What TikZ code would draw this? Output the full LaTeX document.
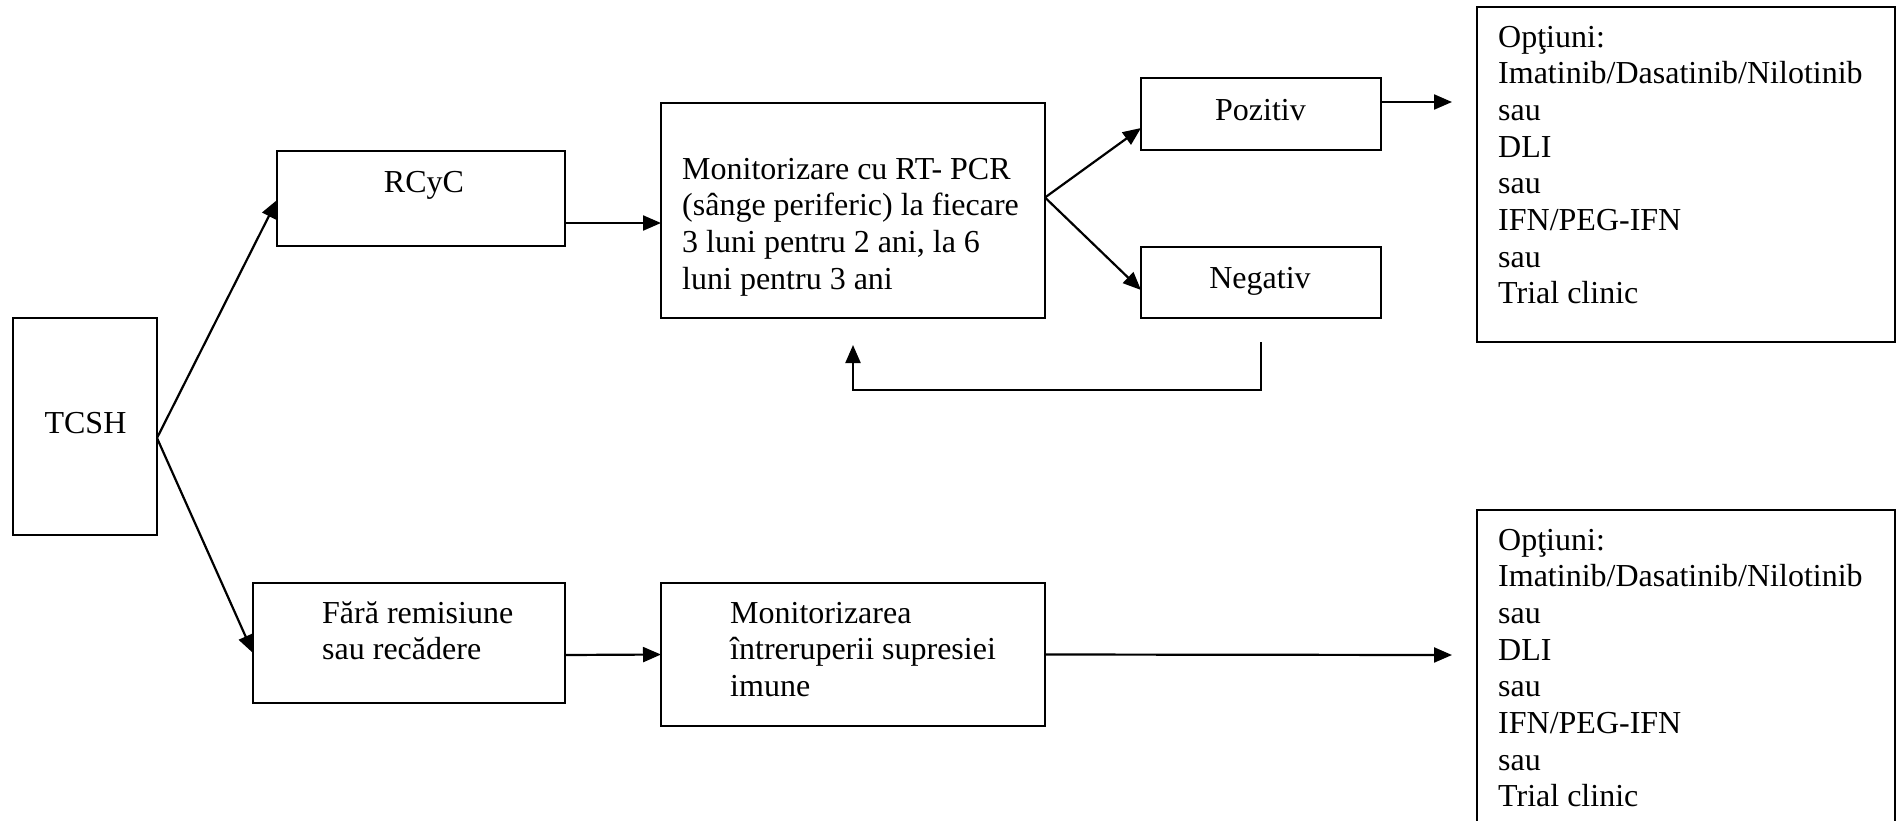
\documentclass[tikz,border=0pt]{standalone}
\usepackage{fontspec}
\setmainfont{Liberation Serif}
\usetikzlibrary{arrows.meta,calc}
\begin{document}
\begin{tikzpicture}[x=1pt,y=-1pt,
  box/.style={draw, line width=2.2pt, rectangle, inner sep=0pt, outer sep=0pt},
  txt/.style={inner sep=0pt, font=\fontsize{32pt}{36.7pt}\selectfont, align=left},
  arr/.style={line width=2.2pt, -{Triangle[length=18pt,width=15pt]}}]
\useasboundingbox (0,0) rectangle (1897,820);
\clip (0,0) rectangle (1897,820);
% boxes
\node[box, minimum width=144pt, minimum height=217pt] (tcsh) at (85,426.5) {};
\node[box, minimum width=288pt, minimum height=95pt]  (rcyc) at (421,198.5) {};
\node[box, minimum width=312pt, minimum height=120pt] (fara) at (409,643) {};
\node[box, minimum width=384pt, minimum height=215pt] (mon)  at (853,210.5) {};
\node[box, minimum width=384pt, minimum height=143pt] (monb) at (853,654.5) {};
\node[box, minimum width=240pt, minimum height=72pt]  (poz)  at (1261,114) {};
\node[box, minimum width=240pt, minimum height=71pt]  (neg)  at (1261,282.5) {};
\node[box, minimum width=418pt, minimum height=335pt] (opt1) at (1686,174.5) {};
\node[box, minimum width=418pt, minimum height=325pt] (opt2) at (1686,672.5) {};
% texts (anchor = baseline of the last line)
\node[txt, anchor=base] (ttcsh) at (85.5,433) {TCSH};
\node[txt, anchor=base] (trcyc) at (424,192) {RCyC};
\node[txt, anchor=base west] (tfara) at (322,659.7) {Fără remisiune\\sau recădere};
\node[txt, anchor=base west] (tmon) at (682,289.1) {Monitorizare cu RT- PCR\\(sânge periferic) la fiecare\\3 luni pentru 2 ani, la 6\\luni pentru 3 ani};
\node[txt, anchor=base west] (tmonb) at (730,696.4) {Monitorizarea\\întreruperii supresiei\\imune};
\node[txt, anchor=base] (tpoz) at (1260.5,120) {Pozitiv};
\node[txt, anchor=base] (tneg) at (1260,288) {Negativ};
\node[txt, anchor=base west] (topt1) at (1498,303.9) {Opţiuni:\\Imatinib/Dasatinib/Nilotinib\\sau\\DLI\\sau\\IFN/PEG-IFN\\sau\\Trial clinic};
\node[txt, anchor=base west] (topt2) at (1498,806.9) {Opţiuni:\\Imatinib/Dasatinib/Nilotinib\\sau\\DLI\\sau\\IFN/PEG-IFN\\sau\\Trial clinic};
% connectors
\coordinate (in1) at (1452,102);
\coordinate (in2) at (1452,655);
\draw[arr] ([yshift=-11.5pt]tcsh.east) -- ([yshift=-1.5pt]rcyc.west);
\draw[arr] ([yshift=-11.5pt]tcsh.east) -- ([yshift=-10pt]fara.west);
\draw[arr] ([yshift=-24.5pt]rcyc.east) -- ([yshift=-12.5pt]mon.west);
\draw[arr] ([yshift=-12pt]fara.east) -- (monb.west);
\draw[arr] ([yshift=13pt]mon.east) -- ([yshift=-14pt]poz.west);
\draw[arr] ([yshift=13pt]mon.east) -- ([yshift=-7.5pt]neg.west);
\draw[arr] ([yshift=12pt]poz.east) -- (in1);
\draw[arr] (monb.east) -- (in2);
\draw[arr] ([yshift=-24pt]neg.south) -- ++(0,48) -| ([yshift=-27pt]mon.south);
\end{tikzpicture}
\end{document}
